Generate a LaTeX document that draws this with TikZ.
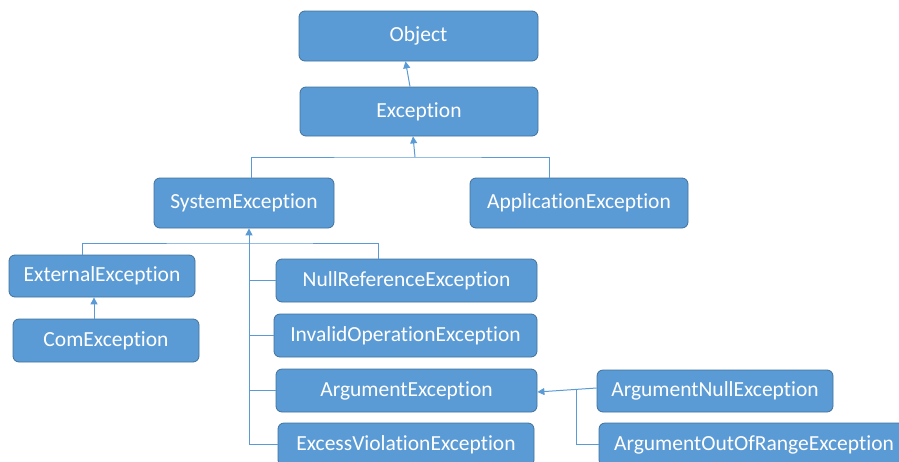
\documentclass[tikz,border=0pt]{standalone}
\usepackage{fontspec}
\setmainfont{Carlito}[Ligatures=NoCommon]
\usetikzlibrary{arrows.meta}
\definecolor{boxfill}{HTML}{5B9BD5}
\definecolor{boxline}{HTML}{41719C}
\definecolor{conn}{HTML}{5B9BD5}
\begin{document}
\begin{tikzpicture}[x=1pt,y=-1pt,
 cls/.style={draw=boxline, line width=0.8pt, fill=boxfill, rounded corners=6pt, text=white, font=\fontsize{21.5}{24}\selectfont, inner sep=0pt},
 link/.style={draw=conn, line width=1pt},
 arr/.style={link, -{Triangle[width=7pt,length=7pt]}}]
\useasboundingbox (0,0) rectangle (899,461);
\node[cls, minimum width=239pt, minimum height=50pt] (obj) at (418.5,36) {Object};
\node[cls, minimum width=238pt, minimum height=49pt] (exc) at (419,111.5) {Exception};
\node[cls, minimum width=180pt, minimum height=50pt] (sys) at (244,203) {SystemException};
\node[cls, minimum width=218pt, minimum height=50pt] (app) at (579,203) {ApplicationException};
\node[cls, minimum width=186pt, minimum height=42pt] (ext) at (102,276) {ExternalException};
\node[cls, minimum width=186pt, minimum height=43pt] (com) at (106,340.5) {ComException};
\node[cls, minimum width=261pt, minimum height=43pt] (nul) at (406.5,280.5) {NullReferenceException};
\node[cls, minimum width=263pt, minimum height=43pt] (inv) at (405.5,335.5) {InvalidOperationException};
\node[cls, minimum width=261pt, minimum height=43pt] (arg) at (406.5,390.5) {ArgumentException};
\node[cls, minimum width=256pt, minimum height=43pt] (exv) at (406,444.5) {ExcessViolationException};
\node[cls, minimum width=236pt, minimum height=42pt] (anu) at (715,391) {ArgumentNullException};
\node[cls, minimum width=310pt, minimum height=43pt] (aor) at (754,444.5) {ArgumentOutOfRangeException};
% Exception -> Object
\draw[arr] ([xshift=-9pt]exc.north) -- ([xshift=-13pt]obj.south);
% level 1 bus
\coordinate (b1) at (415,157);
\draw[link] ([xshift=7pt]sys.north) |- (b1) -| ([xshift=-30pt]app.north);
\draw[arr] (b1) -- ([xshift=-6pt]exc.south);
% level 2 bus
\coordinate (b2) at (249,243);
\draw[link] ([xshift=-20pt]ext.north) |- (b2) -| ([xshift=-28.5pt]nul.north);
\draw[arr] (b2) -- ([xshift=5pt]sys.south);
\draw[link] (b2) |- (exv.west);
\draw[link] (b2 |- nul.west) -- (nul.west);
\draw[link] (b2 |- inv.west) -- (inv.west);
\draw[link] (b2 |- arg.west) -- (arg.west);
% Com -> External
\coordinate (cx) at ([xshift=-12pt]com.north);
\draw[arr] (cx) -- (cx |- ext.south);
% ArgumentNull -> Argument
\draw[arr] ([yshift=3pt]anu.west) -- ([yshift=-1.5pt]arg.east);
\coordinate (j) at (576,389);
\draw[link] (j) |- (aor.west);
\end{tikzpicture}
\end{document}
